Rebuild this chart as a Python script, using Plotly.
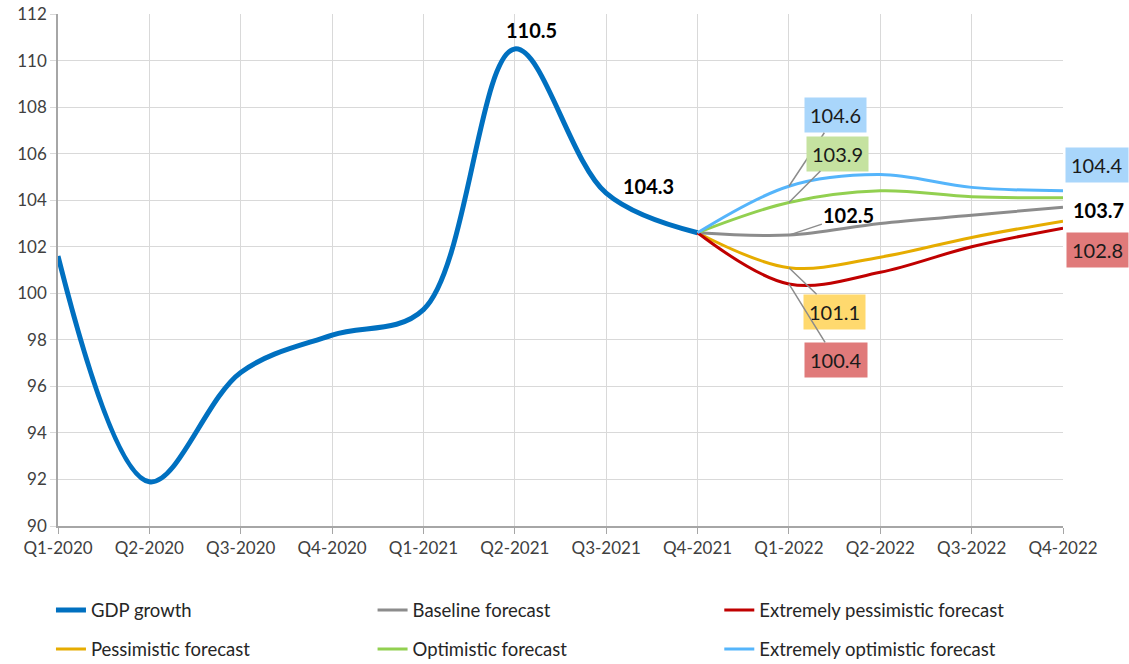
import plotly.graph_objects as go

quarters = ["Q1-2020", "Q2-2020", "Q3-2020", "Q4-2020", "Q1-2021", "Q2-2021",
            "Q3-2021", "Q4-2021", "Q1-2022", "Q2-2022", "Q3-2022", "Q4-2022"]
gdp_quarters = quarters[:8]
gdp_values = [101.6, 91.9, 96.6, 98.2, 99.3, 110.5, 104.3, 102.6]

fc_quarters = quarters[7:]
baseline = [102.6, 102.5, 103.0, 103.35, 103.7]
extreme_pess = [102.6, 100.4, 100.9, 102.0, 102.8]
pessimistic = [102.6, 101.1, 101.55, 102.4, 103.1]
optimistic = [102.6, 103.9, 104.4, 104.15, 104.1]
extreme_opt = [102.6, 104.6, 105.1, 104.55, 104.4]

FONT = "Lato"
C_GDP = "#0070c0"
C_BASE = "#8c8c8c"
C_XPESS = "#c00000"
C_PESS = "#e6ac00"
C_OPT = "#92d050"
C_XOPT = "#55b5fb"

fig = go.Figure()

def add(x, y, name, color, width, legend):
    fig.add_trace(go.Scatter(
        x=x, y=y, name=name, mode="lines",
        line=dict(color=color, width=width, shape="spline", smoothing=1),
        legend=legend, legendgroup=name, hoverinfo="x+y+name",
    ))

add(gdp_quarters, gdp_values, "GDP growth", C_GDP, 5, "legend")
add(fc_quarters, pessimistic, "Pessimistic forecast", C_PESS, 3, "legend")
add(fc_quarters, baseline, "Baseline forecast", C_BASE, 3, "legend2")
add(fc_quarters, optimistic, "Optimistic forecast", C_OPT, 3, "legend2")
add(fc_quarters, extreme_pess, "Extremely pessimistic forecast", C_XPESS, 3, "legend3")
add(fc_quarters, extreme_opt, "Extremely optimistic forecast", C_XOPT, 3, "legend3")

lab_font = dict(family=FONT, size=20, color="#1a1a1a")
bold_font = dict(family=FONT, size=20, color="#000000", weight="bold")

# Plain bold labels on GDP
fig.add_annotation(x=gdp_quarters[5], y=gdp_values[5], text=f"<b>{gdp_values[5]:.1f}</b>",
                   showarrow=False, xshift=17, yshift=19, font=bold_font)
fig.add_annotation(x=gdp_quarters[6], y=gdp_values[6], text=f"<b>{gdp_values[6]:.1f}</b>",
                   showarrow=False, xshift=42, yshift=7, font=bold_font)

# Q1-2022 labels with leader lines
def leader(x, y, text, ax, ay, bg=None, font=lab_font):
    kw = dict(x=x, y=y, text=text, showarrow=True, arrowhead=0, arrowwidth=1.5,
              arrowcolor="#8c8c8c", ax=ax, ay=ay, font=font)
    if bg:
        kw.update(bgcolor=bg, borderpad=5)
    fig.add_annotation(**kw)

leader(fc_quarters[1], extreme_opt[1], f"{extreme_opt[1]:.1f}", 47, -71, "#a9d6fb")
leader(fc_quarters[1], optimistic[1], f"{optimistic[1]:.1f}", 49, -49, "#c5e2a0")
leader(fc_quarters[1], baseline[1], f"<b>{baseline[1]:.1f}</b>", 60, -20, None, bold_font)
leader(fc_quarters[1], pessimistic[1], f"{pessimistic[1]:.1f}", 46, 44, "#ffd96e")
leader(fc_quarters[1], extreme_pess[1], f"{extreme_pess[1]:.1f}", 47, 76, "#e07a7a")

# End labels
fig.add_annotation(x=fc_quarters[-1], y=extreme_opt[-1], text=f"{extreme_opt[-1]:.1f}",
                   showarrow=False, xshift=34, yshift=26, bgcolor="#a9d6fb", borderpad=5, font=lab_font)
fig.add_annotation(x=fc_quarters[-1], y=baseline[-1], text=f"<b>{baseline[-1]:.1f}</b>",
                   showarrow=False, xshift=35, yshift=-3, font=bold_font)
fig.add_annotation(x=fc_quarters[-1], y=extreme_pess[-1], text=f"{extreme_pess[-1]:.1f}",
                   showarrow=False, xshift=34, yshift=-22, bgcolor="#e07a7a", borderpad=5, font=lab_font)

legend_common = dict(orientation="v", yanchor="top", xanchor="left",
                     font=dict(family=FONT, size=18.5, color="#262626"),
                     bgcolor="rgba(0,0,0,0)", tracegroupgap=12, itemwidth=30)
fig.update_layout(
    width=1129, height=664,
    margin=dict(l=58, r=66, t=14, b=138, autoexpand=False),
    paper_bgcolor="white", plot_bgcolor="white",
    font=dict(family=FONT, size=17, color="#404040"),
    xaxis=dict(type="category", categoryorder="array", categoryarray=quarters,
               range=[0, 11], showgrid=True, gridcolor="#d9d9d9", gridwidth=1,
               showline=True, linecolor="#a6a6a6", linewidth=1.5,
               ticks="outside", ticklen=6, tickcolor="#a6a6a6",
               tickfont=dict(family=FONT, size=17, color="#404040"), zeroline=False),
    yaxis=dict(range=[90, 112], dtick=2, tick0=90, showgrid=True, gridcolor="#d9d9d9",
               gridwidth=1, showline=True, linecolor="#a6a6a6", linewidth=1.5,
               ticks="outside", ticklen=6, tickcolor="#d9d9d9",
               tickfont=dict(family=FONT, size=17, color="#404040"), zeroline=False),
    legend=dict(x=-0.007, y=-0.128, **legend_common),
    legend2=dict(x=0.313, y=-0.128, **legend_common),
    legend3=dict(x=0.658, y=-0.128, **legend_common),
    showlegend=True,
)

fig.write_html("out.html")
